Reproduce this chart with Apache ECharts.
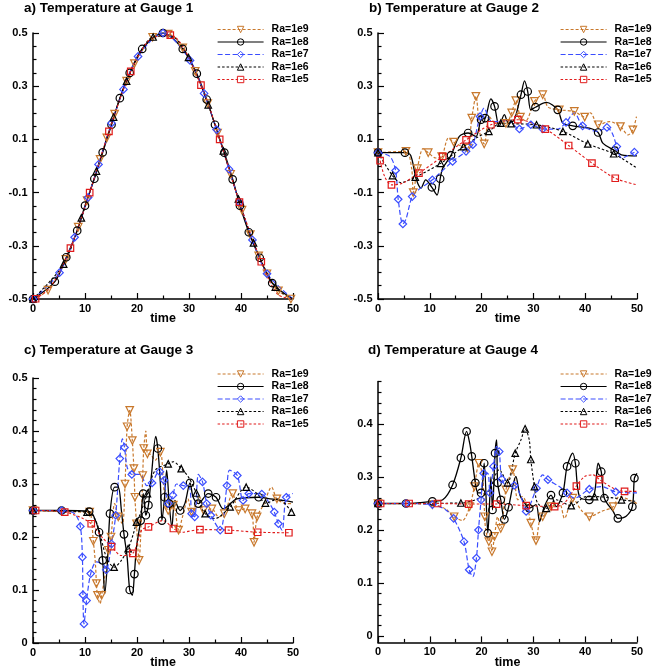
<!DOCTYPE html>
<html>
<head>
<meta charset="utf-8">
<script src="https://cdn.jsdelivr.net/npm/echarts@6.0.0/dist/echarts.min.js"></script>
<style>
html, body { margin: 0; padding: 0; background: #fff; }
#chart { width: 652px; height: 672px; }
</style>
</head>
<body>
<div id="chart"></div>
<script>
// series names and panel titles
var names = ['Ra=1e9', 'Ra=1e8', 'Ra=1e7', 'Ra=1e6', 'Ra=1e5'];
var titles = ['a) Temperature at Gauge 1', 'b) Temperature at Gauge 2',
              'c) Temperature at Gauge 3', 'd) Temperature at Gauge 4'];

// tick labels
var yLabelsAB = [-0.5, -0.3, -0.1, 0.1, 0.3, 0.5];
var yLabelsC = [0, 0.1, 0.2, 0.3, 0.4, 0.5];
var yLabelsD = [0, 0.1, 0.2, 0.3, 0.4];

// data: [time, temperature, marker shown?]
// Gauge 1
var g1_ra1e9 = [[0,-0.5,0],[2.9,-0.467,1],[6.3,-0.351,1],[8.7,-0.23,1],[10.4,-0.13,1],[12.9,0.025,1],[14.2,0.106,1],[15.7,0.195,1],[18,0.319,1],[19.5,0.385,1],[23,0.484,1],[26,0.496,1],[28.8,0.444,1],[31.2,0.356,1],[33.6,0.235,1],[35.5,0.124,1],[38,-0.031,1],[40.2,-0.166,1],[41.8,-0.258,1],[43.4,-0.338,1],[45,-0.405,1],[47.2,-0.469,1],[49.6,-0.5,1]];
var g1_ra1e8 = [[0,-0.5,1],[4.2,-0.435,1],[6.4,-0.343,1],[8.5,-0.243,1],[10,-0.149,1],[11.8,-0.048,1],[13.4,0.051,1],[15.1,0.155,1],[16.7,0.255,1],[18.6,0.35,1],[21,0.44,1],[25,0.5,1],[28.8,0.44,1],[31.5,0.347,1],[33.4,0.25,1],[35,0.155,1],[36.8,0.05,1],[38.4,-0.05,1],[39.8,-0.149,1],[41.5,-0.249,1],[43.6,-0.345,1],[46,-0.44,1],[50,-0.5,0]];
var g1_ra1e7 = [[0,-0.5,1],[5.1,-0.401,1],[8,-0.268,1],[10.6,-0.118,1],[12.6,0.006,1],[15.1,0.161,1],[17.4,0.288,1],[20.2,0.412,1],[25,0.5,1],[30.2,0.397,1],[32.9,0.273,1],[35.3,0.137,1],[37.7,-0.012,1],[39.7,-0.136,1],[42.2,-0.278,1],[45,-0.405,1],[50,-0.5,0]];
var g1_ra1e6 = [[0,-0.5,1],[5.9,-0.369,1],[9.3,-0.195,1],[12.2,-0.019,1],[15.5,0.184,1],[18,0.319,1],[23.1,0.485,1],[26.5,0.489,0],[29.9,0.408,1],[33.7,0.23,1],[36.6,0.057,1],[39.5,-0.124,1],[42.4,-0.289,1],[46.6,-0.455,1],[50,-0.5,0]];
var g1_ra1e5 = [[0.5,-0.499,1],[3.5,-0.452,0],[7.2,-0.309,1],[10.9,-0.1,1],[14.6,0.13,1],[18.8,0.356,1],[22.5,0.476,0],[26.4,0.492,1],[32.3,0.304,1],[35.9,0.1,1],[39.7,-0.136,1],[43.9,-0.36,1],[47,-0.482,0],[50,-0.5,0]];

// Gauge 2
var g2_ra1e9 = [[0,0.05,1],[5.4,0.055,1],[6.5,-0.01,0],[6.8,-0.1,1],[7.6,-0.01,1],[8.7,0.065,0],[9.7,0.05,1],[11.2,0.03,0],[12.3,0.035,1],[13.6,0.105,0],[14.6,0.09,1],[16,0.075,0],[17.3,0.067,1],[18.1,0.18,1],[18.9,0.262,1],[19.7,0.12,0],[20.5,0.083,1],[21.5,0.185,0],[22.8,0.16,0],[24.7,0.16,1],[25.8,0.2,1],[26.6,0.246,1],[27.5,0.184,1],[28.5,0.17,0],[30.2,0.243,1],[31.8,0.268,1],[32.8,0.222,0],[35,0.211,1],[37.9,0.205,1],[39.9,0.184,1],[41,0.2,0],[42.5,0.155,1],[44.7,0.167,0],[46.8,0.148,1],[48.3,0.117,0],[49.2,0.136,1],[49.9,0.186,0]];
var g2_ra1e8 = [[0,0.05,1],[5.2,0.05,1],[6.3,0.04,0],[7.4,-0.05,0],[8.3,-0.083,0],[9.2,-0.052,0],[10.4,-0.08,1],[11.4,-0.109,0],[12,-0.048,1],[12.5,-0.008,0],[14.1,0.04,1],[15.7,0.111,0],[17.4,0.124,1],[18.9,0.111,0],[19.9,0.174,1],[20.7,0.18,1],[21.8,0.252,0],[22.5,0.224,1],[23.4,0.149,0],[24.4,0.193,0],[25.2,0.161,0],[26.3,0.174,0],[27.6,0.268,1],[28.3,0.32,0],[28.9,0.28,1],[29.5,0.211,0],[30.4,0.221,1],[32.5,0.239,0],[34.7,0.211,1],[35.7,0.161,0],[37.6,0.151,1],[40.8,0.142,0],[42.5,0.126,1],[43.4,0.086,0],[45.7,0.058,1],[47,0.042,0],[50,0.038,0]];
var g2_ra1e7 = [[0,0.05,1],[2.3,0.036,0],[3.4,-0.017,1],[3.9,-0.125,1],[4.8,-0.218,1],[5.4,-0.2,0],[6.6,-0.115,1],[7.9,-0.088,0],[10.5,-0.052,1],[14.4,0.017,1],[17,0.055,1],[18.3,0.08,1],[19.2,0.149,0],[19.7,0.186,1],[20.5,0.218,0],[21.5,0.174,0],[22.8,0.167,0],[25,0.174,0],[27.3,0.139,1],[29.5,0.155,1],[31.8,0.139,1],[34.7,0.139,0],[36.3,0.164,1],[37.9,0.2,0],[39.5,0.151,1],[42.5,0.13,0],[44.2,0.145,1],[45.2,0.124,0],[46.1,0.073,1],[47,0.03,0],[47.9,0.036,0],[49.5,0.052,1]];
var g2_ra1e6 = [[0,0.05,1],[2.8,-0.036,1],[4.4,-0.062,0],[7.2,-0.042,1],[12.1,0.01,1],[16.5,0.073,1],[19.2,0.108,0],[21.4,0.13,1],[23.7,0.161,1],[25.7,0.159,1],[30.6,0.155,1],[35.7,0.13,1],[40.5,0.083,1],[45.5,0.046,1],[50,-0.008,0]];
var g2_ra1e5 = [[0.4,0.02,1],[1.3,-0.04,0],[2.6,-0.071,1],[4.7,-0.065,0],[7.9,-0.027,1],[12.5,0.036,1],[17,0.098,1],[21.8,0.155,1],[27,0.174,1],[32.3,0.139,1],[36.8,0.077,1],[41.3,0.011,1],[45.8,-0.046,1],[50,-0.071,0]];

// Gauge 3
var g3_ra1e9 = [[0,0.25,1],[10,0.247,0],[10.9,0.247,1],[11.6,0.192,1],[12,0.15,0],[12.2,0.112,1],[12.4,0.09,1],[12.9,0.074,0],[13.2,0.09,1],[13.8,0.125,0],[14.5,0.175,1],[15,0.2,1],[15.7,0.263,0],[16.4,0.238,1],[17.2,0.225,0],[17.7,0.3,1],[18.1,0.408,1],[18.6,0.439,1],[19.1,0.382,1],[19.4,0.329,1],[19.6,0.275,1],[19.9,0.225,1],[20.4,0.156,1],[20.7,0.2,0],[21.1,0.316,1],[21.3,0.367,1],[21.7,0.4,0],[22,0.357,1],[22.6,0.356,0],[23.5,0.345,0],[24.5,0.36,1],[25.2,0.288,0],[26,0.25,1],[27,0.26,1],[28,0.213,1],[28.8,0.24,0],[29.8,0.272,0],[30.5,0.247,1],[32.1,0.275,0],[32.8,0.25,1],[34.4,0.253,1],[35.7,0.238,0],[36.8,0.244,1],[38.4,0.282,1],[39.5,0.25,1],[40.8,0.253,1],[42.1,0.244,1],[42.5,0.19,1],[43.1,0.238,1],[44.3,0.26,0],[45.9,0.294,0],[46.9,0.272,1],[48.8,0.263,0],[50,0.263,0]];
var g3_ra1e8 = [[0,0.25,1],[5.5,0.25,1],[10.8,0.248,1],[11.6,0.241,0],[12.7,0.209,1],[13.4,0.156,1],[13.8,0.093,0],[14.3,0.15,0],[14.8,0.244,1],[15.7,0.294,1],[16.4,0.294,0],[17,0.25,0],[17.5,0.205,1],[18.1,0.162,0],[18.6,0.1,1],[19.1,0.09,0],[19.5,0.13,1],[19.9,0.181,0],[20.7,0.231,1],[21.2,0.282,1],[21.7,0.241,1],[22.2,0.26,1],[22.8,0.319,0],[23.6,0.39,0],[24,0.367,1],[24.5,0.3,0],[24.8,0.231,1],[25.3,0.275,1],[25.7,0.326,0],[26.2,0.263,1],[26.7,0.219,0],[27.3,0.269,0],[28.3,0.25,1],[29.2,0.263,0],[30.2,0.302,1],[30.8,0.275,0],[31.8,0.263,1],[33.7,0.282,1],[35.2,0.275,1],[36.6,0.253,0],[39.2,0.272,0],[43.4,0.275,1],[45.6,0.272,0],[48.8,0.268,0],[50,0.266,0]];
var g3_ra1e7 = [[0,0.25,1],[5.5,0.25,1],[8,0.244,0],[9.1,0.22,1],[9.5,0.162,1],[9.6,0.091,1],[9.8,0.036,1],[10.3,0.08,1],[11.1,0.131,1],[12.2,0.153,0],[13.6,0.147,0],[14.1,0.138,1],[15.1,0.187,1],[15.9,0.241,1],[16.7,0.348,1],[17.2,0.385,0],[17.6,0.369,1],[18.1,0.332,0],[19,0.318,1],[20.6,0.318,0],[21.9,0.297,0],[22.9,0.302,1],[23.8,0.319,0],[24.4,0.323,1],[25.2,0.307,1],[26,0.263,1],[26.9,0.279,1],[27.6,0.3,0],[28.9,0.297,1],[30.1,0.294,0],[30.5,0.244,1],[31.1,0.238,1],[31.8,0.318,0],[32.6,0.304,1],[33.4,0.263,1],[34.2,0.241,1],[36,0.213,1],[37.3,0.297,1],[37.8,0.326,0],[39.3,0.316,1],[40.4,0.269,1],[41.5,0.282,1],[44,0.281,1],[45.5,0.263,0],[46.4,0.247,1],[47.2,0.225,1],[47.9,0.213,0],[48.7,0.275,1],[50,0.282,0]];
var g3_ra1e6 = [[0,0.25,1],[10.4,0.247,1],[12.2,0.228,0],[14.1,0.162,0],[15.6,0.143,1],[17,0.156,0],[18.3,0.178,1],[19.3,0.206,0],[19.9,0.228,1],[20.4,0.238,0],[22,0.282,1],[23.5,0.326,0],[26,0.338,1],[27,0.342,0],[28.5,0.329,1],[29.9,0.313,0],[31.4,0.283,1],[32.5,0.253,0],[33.1,0.244,1],[35,0.235,0],[37.9,0.257,1],[41,0.294,1],[43.1,0.282,0],[44.7,0.264,1],[47.2,0.272,0],[49.7,0.247,1]];
var g3_ra1e5 = [[0,0.25,0],[0.5,0.25,1],[6.1,0.247,1],[9.6,0.235,0],[11.2,0.225,1],[13.5,0.197,0],[15.1,0.182,1],[17,0.165,0],[19.2,0.169,1],[20.9,0.213,0],[22.2,0.219,1],[25,0.231,0],[27,0.216,1],[28.6,0.209,0],[32.1,0.214,1],[37.6,0.213,1],[43.2,0.209,1],[49.2,0.208,1]];

// Gauge 4
var g4_ra1e9 = [[0,0.25,1],[10.5,0.248,1],[13,0.24,0],[14.7,0.225,1],[16.3,0.218,0],[17.7,0.244,1],[18.6,0.282,1],[19.5,0.326,1],[20.2,0.301,0],[20.6,0.225,1],[20.8,0.2,0],[21.4,0.178,1],[21.7,0.2,0],[22,0.159,1],[22.5,0.188,1],[23.1,0.225,0],[23.7,0.203,1],[24.7,0.276,1],[26,0.314,1],[27,0.257,0],[27.9,0.263,0],[28.9,0.241,0],[29.5,0.213,1],[30.5,0.18,1],[31.2,0.219,0],[31.8,0.225,1],[32.5,0.232,0],[33.4,0.244,1],[35,0.251,0],[36,0.222,0],[37.6,0.26,1],[39.2,0.238,0],[40.8,0.225,1],[43.1,0.235,0],[45.4,0.244,1],[46.6,0.263,0],[50,0.25,0]];
var g4_ra1e8 = [[0,0.25,1],[5.4,0.25,1],[10.5,0.254,1],[12.5,0.257,0],[14.4,0.285,1],[16,0.336,1],[17.1,0.386,1],[17.7,0.364,0],[18.1,0.339,1],[18.8,0.289,1],[19.3,0.27,0],[19.9,0.27,1],[20.5,0.326,1],[21.2,0.194,1],[21.5,0.244,0],[21.8,0.3,0],[22.1,0.238,1],[22.6,0.345,1],[22.9,0.37,0],[23.1,0.289,1],[23.7,0.257,1],[24.4,0.22,1],[25.2,0.243,1],[26,0.282,0],[26.6,0.301,0],[27.4,0.266,0],[28.3,0.251,0],[29.2,0.241,1],[30.5,0.248,0],[31.2,0.216,0],[32.1,0.244,0],[33.4,0.266,1],[34.4,0.244,0],[35.7,0.27,1],[36.5,0.32,1],[37.6,0.345,0],[38.1,0.326,1],[38.9,0.263,0],[40.8,0.257,1],[41.8,0.27,0],[42.5,0.326,0],[43.1,0.31,1],[43.7,0.26,1],[45.4,0.235,0],[46.3,0.222,1],[47.9,0.226,0],[49.1,0.244,1],[49.5,0.298,1],[50,0.307,0]];
var g4_ra1e7 = [[0,0.25,1],[5.4,0.25,1],[10.5,0.248,1],[13.1,0.238,0],[14.6,0.222,1],[16.6,0.178,1],[17.6,0.125,1],[18.3,0.112,0],[19,0.147,1],[19.4,0.2,1],[19.9,0.257,1],[20.4,0.307,1],[21.2,0.307,0],[21.6,0.27,1],[22.3,0.32,1],[22.9,0.358,0],[23.4,0.348,1],[23.9,0.296,1],[25,0.282,0],[26.3,0.284,1],[27.6,0.263,0],[28.6,0.235,1],[29.5,0.251,0],[30.6,0.279,1],[31.8,0.304,0],[32.8,0.295,1],[35,0.282,0],[36.5,0.27,1],[37.9,0.26,0],[40.8,0.277,1],[43.1,0.282,0],[45.9,0.272,1],[50,0.27,0]];
var g4_ra1e6 = [[0,0.25,1],[16,0.251,1],[19.5,0.26,0],[21.5,0.276,0],[23.4,0.314,0],[25,0.289,1],[26.5,0.345,1],[27.6,0.37,0],[28.4,0.391,1],[29.2,0.37,0],[29.5,0.333,1],[30.2,0.282,1],[30.8,0.251,0],[32.5,0.241,1],[34.4,0.257,0],[37.3,0.246,1],[40.2,0.263,0],[41.8,0.263,1],[46,0.26,0],[47,0.257,1],[50,0.254,0]];
var g4_ra1e5 = [[0,0.25,0],[0.5,0.25,1],[6,0.25,1],[11.5,0.25,1],[17.5,0.249,1],[22.9,0.249,1],[28.6,0.246,1],[34.1,0.244,1],[36,0.251,0],[38.3,0.283,1],[39.9,0.301,0],[41.5,0.304,0],[42.8,0.295,1],[45.4,0.279,0],[47.6,0.273,1],[50,0.273,0]];

var panels = [
    [g1_ra1e9, g1_ra1e8, g1_ra1e7, g1_ra1e6, g1_ra1e5],
    [g2_ra1e9, g2_ra1e8, g2_ra1e7, g2_ra1e6, g2_ra1e5],
    [g3_ra1e9, g3_ra1e8, g3_ra1e7, g3_ra1e6, g3_ra1e5],
    [g4_ra1e9, g4_ra1e8, g4_ra1e7, g4_ra1e6, g4_ra1e5]
];

// look of each Ra curve
var looks = [
    {color: '#c8782c', symbol: 'triangle', rotate: 180, size: 7.5, dash: [3, 2], width: 1.2},
    {color: '#000000', symbol: 'circle', rotate: 0, size: 7.5, dash: 'solid', width: 1.3},
    {color: '#3a4dff', symbol: 'diamond', rotate: 0, size: 7.5, dash: [5, 2.5], width: 1.2},
    {color: '#000000', symbol: 'triangle', rotate: 0, size: 6.5, dash: [2.5, 2], width: 1.1},
    {color: '#e01b1b', symbol: 'rect', rotate: 0, size: 6.5, dash: [2.5, 2], width: 1.1}
];

var font = 'Liberation Sans, Arial, Helvetica, sans-serif';
var grids = [
    {left: 33, top: 33, width: 260, height: 266},
    {left: 378, top: 33, width: 259, height: 266},
    {left: 33, top: 378, width: 260, height: 265},
    {left: 378, top: 381.6, width: 259, height: 260.8}
];
var yRanges = [[-0.5, 0.5], [-0.5, 0.5], [0, 0.5], [-0.012, 0.48]];
var yLabels = [yLabelsAB, yLabelsAB, yLabelsC, yLabelsD];
var yMinorStep = [0.05, 0.05, 0.02, 0.02];
var titlePos = [[24, 1.5], [369, 1.5], [24, 343], [368, 343]];
var legendPos = [[217, 24], [560, 24], [217, 368.5], [560, 368.5]];

function minorTicks(i) {
    var out = [], step = yMinorStep[i];
    var k0 = Math.ceil(yRanges[i][0] / step - 1e-9), k1 = Math.floor(yRanges[i][1] / step + 1e-9);
    for (var k = k0; k <= k1; k++) {
        var v = Math.round(k * step * 1000) / 1000;
        var major = yLabels[i].some(function (m) { return Math.abs(m - v) < 1e-9; });
        if (!major) out.push(v);
    }
    return out;
}
function sizeFn(size) {
    return function (v) { return v[2] ? size : 0; };
}
function fmt(v) {
    return Math.abs(v) < 1e-9 ? '0' : v.toFixed(1);
}

var axisLineStyle = {color: '#000', width: 1.5};
var tickStyle = {color: '#000', width: 1.2};
var labelStyle = {fontFamily: font, fontWeight: 'bold', fontSize: 11, color: '#000'};

var title = [], legend = [], xAxis = [], yAxis = [], series = [];
for (var i = 0; i < 4; i++) {
    title.push({
        text: titles[i], left: titlePos[i][0], top: titlePos[i][1], padding: 0,
        textStyle: {fontFamily: font, fontWeight: 'bold', fontSize: 13.5, color: '#000'}
    });
    legend.push({
        orient: 'vertical', left: legendPos[i][0], top: legendPos[i][1], padding: 0,
        itemWidth: 46, itemHeight: 8, itemGap: 1.5, selectedMode: false,
        lineStyle: {width: 1.2},
        itemStyle: {borderWidth: 1},
        textStyle: {fontFamily: font, fontWeight: 'bold', fontSize: 10.5, color: '#000', padding: [0, 0, 0, 3]},
        data: names
    });
    xAxis.push({
        type: 'value', gridIndex: i, min: 0, max: 50, interval: 10,
        name: 'time', nameLocation: 'middle', nameGap: 13.5, nameMoveOverlap: false,
        nameTextStyle: {fontFamily: font, fontWeight: 'bold', fontSize: 12.5, color: '#000'},
        axisLine: {onZero: false, lineStyle: axisLineStyle},
        axisTick: {inside: true, length: 6, lineStyle: tickStyle},
        minorTick: {show: true, splitNumber: 2, length: 3.5, lineStyle: tickStyle},
        axisLabel: Object.assign({margin: 4}, labelStyle),
        splitLine: {show: false}
    });
    yAxis.push({
        type: 'value', gridIndex: i, position: 'left',
        min: yRanges[i][0], max: yRanges[i][1],
        axisLine: {onZero: false, lineStyle: axisLineStyle},
        axisTick: {inside: true, length: 6, lineStyle: tickStyle, customValues: yLabels[i]},
        axisLabel: Object.assign({margin: 5.5, customValues: yLabels[i], formatter: fmt}, labelStyle),
        splitLine: {show: false}
    });
    for (var j = 0; j < 5; j++) {
        var lk = looks[j];
        series.push({
            name: names[j], type: 'line', xAxisIndex: i, yAxisIndex: i,
            data: panels[i][j], smooth: 0.3, showAllSymbol: true,
            symbol: lk.symbol, symbolRotate: lk.rotate, symbolSize: sizeFn(lk.size),
            lineStyle: {color: lk.color, width: lk.width, type: lk.dash},
            itemStyle: {color: 'rgba(255,255,255,0)', borderColor: lk.color, borderWidth: 1.2},
            emphasis: {disabled: true}
        });
    }
}
// minor tick overlays on the y axes
for (var i = 0; i < 4; i++) {
    yAxis.push({
        type: 'value', gridIndex: i, position: 'left',
        min: yRanges[i][0], max: yRanges[i][1],
        axisLine: {show: false, onZero: false},
        axisTick: {inside: true, length: 3.5, lineStyle: tickStyle, customValues: minorTicks(i)},
        axisLabel: {show: false},
        splitLine: {show: false}
    });
}

var myChart = echarts.init(document.getElementById('chart'));
var option = {
    backgroundColor: '#fff',
    animation: false,
    title: title,
    legend: legend,
    grid: grids,
    xAxis: xAxis,
    yAxis: yAxis,
    series: series
};
myChart.setOption(option);
</script>
</body>
</html>
